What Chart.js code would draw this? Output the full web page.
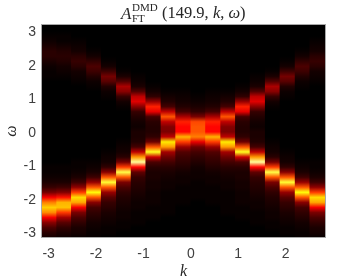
<!DOCTYPE html>
<html>
<head>
<meta charset="utf-8">
<script src="https://cdn.jsdelivr.net/npm/chart.js@4"></script>
<style>
body { margin: 0; background: #fff; }
#wrap { position: relative; width: 349px; height: 279px; }
#title span { position: absolute; font-family: "Liberation Serif", serif; color: #262626; white-space: nowrap; line-height: 1; }
</style>
</head>
<body>
<div id="wrap">
  <canvas id="spectrumChart" width="349" height="279"></canvas>
  <div id="title">
    <span style="left:121px;top:5px;font-size:17px;font-style:italic">A</span>
    <span style="left:132px;top:2px;font-size:11px">DMD</span>
    <span style="left:132px;top:13px;font-size:11px">FT</span>
    <span style="left:162px;top:5px;font-size:16.5px">(149.9, <i>k</i>, <i>ω</i>)</span>
  </div>
</div>
<script>
// griglia in omega (-3.15 ... 3.15, passo 0.15) e centri delle colonne in k
const omegaRows = [-3.15,-3,-2.85,-2.7,-2.55,-2.4,-2.25,-2.1,-1.95,-1.8,-1.65,-1.5,-1.35,-1.2,-1.05,-0.9,-0.75,-0.6,-0.45,-0.3,-0.15,0,0.15,0.3,0.45,0.6,0.75,0.9,1.05,1.2,1.35,1.5,1.65,1.8,1.95,2.1,2.25,2.4,2.55,2.7,2.85,3,3.15];
const kCenters = [-2.98,-2.67,-2.36,-2.04,-1.73,-1.41,-1.10,-0.79,-0.47,-0.16,0.16,0.47,0.79,1.10,1.41,1.73,2.04,2.36,2.67];
const kTicks = [-3,-2,-1,0,1,2];
const omegaTicks = [-3,-2,-1,0,1,2,3];

// intensita' (percentuale), una lista per colonna
const col0 = [3,6,11,20,36,58,68,56,36,17,8,4,2,1,1,0,0,0,0,0,0, 0, 0,0,0,0,0,0,0,0,0,0,1,1,2,4,6,6,4,2,1,0,0];
const col1 = [2,4,7,13,24,46,66,64,40,19,9,4,2,1,1,0,0,0,0,0,0, 0, 0,0,0,0,0,0,0,0,0,0,1,2,3,5,6,5,3,1,1,0,0];
const col2 = [1,3,4,7,11,18,36,62,70,46,21,9,4,2,1,1,0,0,0,0,0, 0, 0,0,0,0,0,0,0,0,0,1,2,3,6,8,6,3,2,1,0,0,0];
const col3 = [1,1,2,3,5,7,10,20,50,76,50,22,9,4,2,1,0,0,0,0,0, 0, 0,0,0,0,0,0,0,0,1,2,5,9,11,7,3,1,0,0,0,0,0];
const col4 = [0,1,1,2,3,4,6,8,13,22,50,80,50,20,7,3,2,1,0,0,0, 0, 0,0,0,0,0,0,1,2,5,13,17,9,3,1,0,0,0,0,0,0,0];
const col5 = [0,0,1,1,2,2,3,4,5,7,11,18,50,82,46,17,6,3,2,1,0, 0, 0,0,0,0,1,3,8,20,25,12,4,1,0,0,0,0,0,0,0,0,0];
const col6 = [0,0,0,1,1,1,2,2,3,4,5,6,8,14,38,90,60,28,10,5,4, 4, 2,3,5,8,20,33,28,12,4,2,1,0,0,0,0,0,0,0,0,0,0];
const col7 = [0,0,0,0,1,1,1,2,2,2,3,3,4,4,6,11,30,78,50,16,7, 5, 5,6,10,34,42,22,7,3,1,0,0,0,0,0,0,0,0,0,0,0,0];
const col8 = [0,0,0,0,0,1,1,1,1,1,2,2,3,4,6,10,16,24,60,72,28, 18, 19,28,50,28,10,5,3,1,0,0,0,0,0,0,0,0,0,0,0,0,0];
const col9 = [0,0,0,0,0,0,0,1,1,1,1,2,2,3,5,7,9,12,22,46,64, 38, 38,42,25,10,5,3,2,1,0,0,0,0,0,0,0,0,0,0,0,0,0];
const col10 = [0,0,0,0,0,0,0,0,1,1,1,1,2,2,3,5,7,10,16,34,56, 50, 50,48,18,7,4,2,1,0,0,0,0,0,0,0,0,0,0,0,0,0,0];
const columns = [col0,col1,col2,col3,col4,col5,col6,col7,col8,col9,col10,col9,col8,col7,col6,col5,col4,col3,col2];

// mappa colori "hot"
function hotColor(pct) {
    const v = pct / 100;
    const r = Math.min(1, v / 0.375);
    const g = Math.max(0, Math.min(1, (v - 0.375) / 0.375));
    const b = Math.max(0, Math.min(1, (v - 0.75) / 0.25));
    return 'rgb(' + Math.round(r * 255) + ',' + Math.round(g * 255) + ',' + Math.round(b * 255) + ')';
}

function columnGradient(ctx) {
    const chart = ctx.chart;
    if (!chart.chartArea || ctx.dataIndex === undefined) return '#000';
    const yScale = chart.scales.y;
    const top = yScale.getPixelForValue(omegaRows[omegaRows.length - 1]);
    const bottom = yScale.getPixelForValue(omegaRows[0]);
    const grad = chart.ctx.createLinearGradient(0, bottom, 0, top);
    columns[ctx.dataIndex].forEach(function(val, j) {
        const off = (yScale.getPixelForValue(omegaRows[j]) - bottom) / (top - bottom);
        grad.addColorStop(off, hotColor(val));
    });
    return grad;
}

const axesBox = {
    id: 'axesBox',
    beforeDatasetsDraw(chart) {
        const a = chart.chartArea;
        chart.ctx.fillStyle = '#000';
        chart.ctx.fillRect(a.left, a.top, a.width, a.height);
    },
    afterDatasetsDraw(chart) {
        const a = chart.chartArea, c = chart.ctx;
        c.save();
        c.strokeStyle = '#a8a8a8';
        c.lineWidth = 1;
        c.strokeRect(a.left - 0.5, a.top - 0.5, a.width + 1, a.height + 1);
        c.restore();
    }
};

new Chart(document.getElementById('spectrumChart').getContext('2d'), {
    type: 'bar',
    data: {
        datasets: [{
            data: kCenters.map(function(k) { return { x: k, y: [omegaRows[0], omegaRows[omegaRows.length - 1]] }; }),
            backgroundColor: columnGradient,
            borderWidth: 0,
            barThickness: 15.2
        }]
    },
    options: {
        responsive: false,
        animation: false,
        layout: { padding: { top: 25, right: 24, left: 0, bottom: 0 } },
        plugins: { legend: { display: false }, tooltip: { enabled: false }, title: { display: false } },
        scales: {
            x: {
                type: 'linear',
                offset: false,
                min: -3.14,
                max: 2.83,
                grid: { display: false, drawTicks: false },
                border: { display: false },
                afterBuildTicks: function(s) { s.ticks = kTicks.map(function(v) { return { value: v }; }); },
                afterFit: function(s) { s.height = 42; },
                ticks: { maxRotation: 0, color: '#404040', padding: 9, font: { family: 'Liberation Sans', size: 14 }, callback: function(v) { return String(v); } },
                title: { display: true, text: 'k', color: '#262626', padding: { top: 1, bottom: -2 }, font: { family: 'Liberation Serif', size: 16, style: 'italic' } }
            },
            y: {
                type: 'linear',
                min: -3.13,
                max: 3.18,
                grid: { display: false, drawTicks: false },
                border: { display: false },
                afterBuildTicks: function(s) { s.ticks = omegaTicks.map(function(v) { return { value: v }; }); },
                afterFit: function(s) { s.width = 42; },
                ticks: { color: '#404040', padding: 6, labelOffset: 1, font: { family: 'Liberation Sans', size: 14 }, callback: function(v) { return String(v); } },
                title: { display: true, text: 'ω', color: '#262626', padding: { top: 2, bottom: 0 }, font: { family: 'Liberation Serif', size: 16, style: 'italic' } }
            }
        }
    },
    plugins: [axesBox]
});
</script>
</body>
</html>
